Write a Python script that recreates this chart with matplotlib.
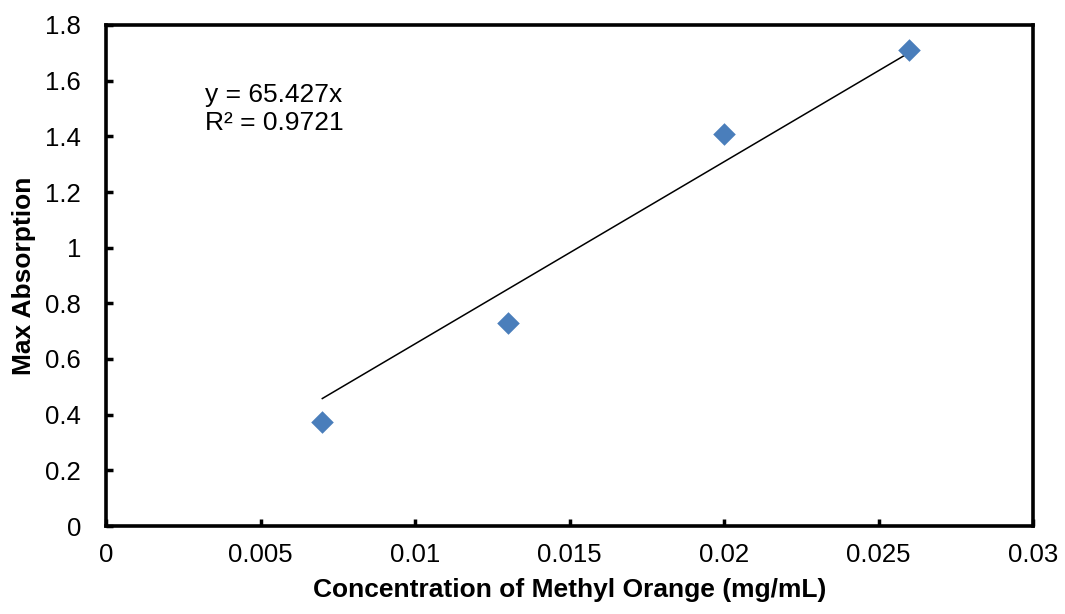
import matplotlib
matplotlib.use("Agg")
import matplotlib.pyplot as plt
import numpy as np

concentration = [0.007, 0.013, 0.020, 0.026]
absorption = [0.375, 0.73, 1.41, 1.71]
slope = 65.427
r_squared = 0.9721
x_ticks = [0, 0.005, 0.01, 0.015, 0.02, 0.025, 0.03]
x_tick_labels = ["0", "0.005", "0.01", "0.015", "0.02", "0.025", "0.03"]
y_ticks = [0, 0.2, 0.4, 0.6, 0.8, 1.0, 1.2, 1.4, 1.6, 1.8]
y_tick_labels = ["0", "0.2", "0.4", "0.6", "0.8", "1", "1.2", "1.4", "1.6", "1.8"]

plt.rcParams['font.family'] = ['Liberation Sans', 'DejaVu Sans']

fig = plt.figure(figsize=(10.65, 6.14), dpi=100)
ax = fig.add_axes([106/1065, 1 - 526/614, (1033-106)/1065, (526-25)/614])

ax.scatter(concentration, absorption, marker='D', s=11.5**2, color='#4A7EBB', zorder=3, linewidths=0)
xf = np.array([min(concentration), max(concentration)])
ax.plot(xf, slope * xf, color='black', linewidth=1.1, zorder=2)

ax.text(0.0032, 1.55, f"y = {slope}x", fontsize=19, va='center', ha='left')
ax.text(0.0032, 1.447, f"R² = {r_squared}", fontsize=19, va='center', ha='left')

ax.set_xlim(0, 0.03)
ax.set_ylim(0, 1.8)
ax.set_xticks(x_ticks)
ax.set_xticklabels(x_tick_labels)
ax.set_yticks(y_ticks)
ax.set_yticklabels(y_tick_labels)
ax.tick_params(direction='in', length=5, width=2.5, labelsize=18.5)
ax.tick_params(axis='x', pad=12)
ax.tick_params(axis='y', pad=18)
for sp in ax.spines.values():
    sp.set_linewidth(2.6)
    sp.set_color('black')

ax.set_xlabel("Concentration of Methyl Orange (mg/mL)", fontsize=19, fontweight='bold', labelpad=8)
ax.set_ylabel("Max Absorption", fontsize=19, fontweight='bold', labelpad=6.5)

fig.savefig("out.png", dpi=100)
